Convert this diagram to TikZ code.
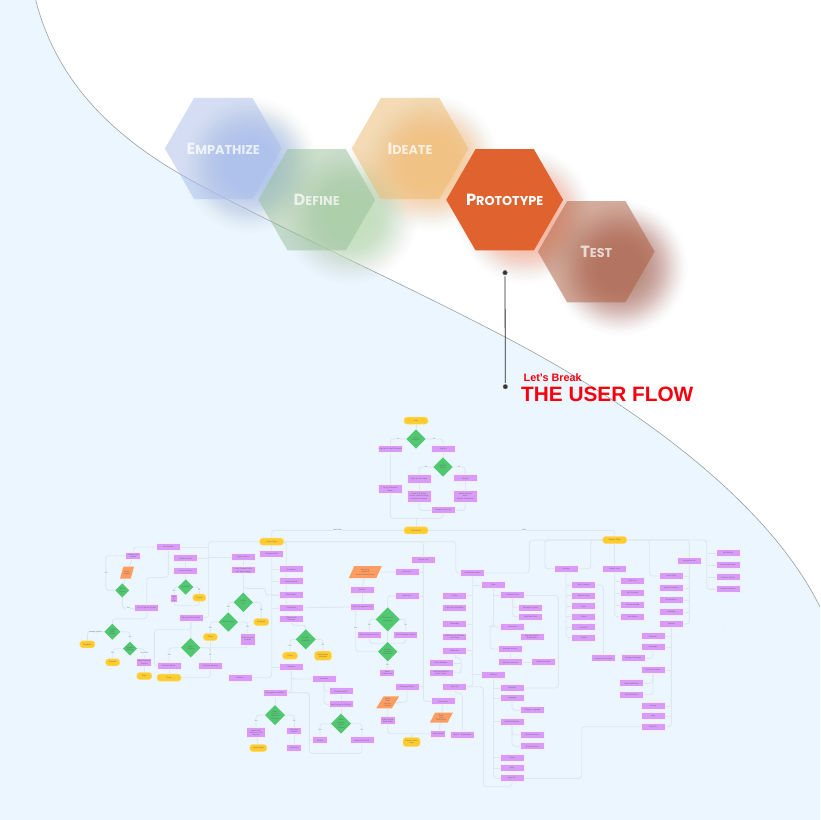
\documentclass[tikz,border=0pt]{standalone}
\usepackage{fontspec}
\setmainfont{Liberation Sans}
\newfontfamily\hexfont{Poppins}
\usetikzlibrary{shapes.geometric}
\definecolor{bgblue}{HTML}{EBF6FF}
\definecolor{curvegrey}{HTML}{9A9FA3}
\definecolor{connc}{HTML}{DEE7EE}
\definecolor{purp}{HTML}{D89CF8}
\definecolor{purpedge}{HTML}{F4EBFD}
\definecolor{yell}{HTML}{FFCC2E}
\definecolor{gren}{HTML}{50C870}
\definecolor{oran}{HTML}{FF9C60}
\definecolor{tinytext}{HTML}{6A6470}
\definecolor{brand}{HTML}{F5000C}
\definecolor{hexA}{HTML}{AABDEB}\definecolor{blobA}{HTML}{B4C9EC}
\definecolor{hexB}{HTML}{97BF97}\definecolor{blobB}{HTML}{C5E0BF}
\definecolor{hexC}{HTML}{EDB96D}\definecolor{blobC}{HTML}{F5CC98}
\definecolor{hexD}{HTML}{E0622E}\definecolor{blobD}{HTML}{F4B49C}
\definecolor{hexE}{HTML}{AB5A3C}\definecolor{blobE}{HTML}{BC8E82}
\pgfdeclarelayer{bglayer}
\pgfdeclarelayer{connlayer}
\pgfsetlayers{bglayer,connlayer,main}
\tikzset{
  tinyfont/.style={font=\fontsize{1.95}{2.4}\selectfont,text=tinytext,align=center,inner sep=0pt,outer sep=0pt},
  pbox/.style={tinyfont,rectangle,fill=purp,draw=purpedge,line width=.7pt,minimum width=24pt,minimum height=7pt},
  ypill/.style={tinyfont,rectangle,rounded corners=3pt,fill=yell,draw=yell!70!white,line width=.5pt,minimum width=24pt,minimum height=7pt},
  gdia/.style={tinyfont,diamond,aspect=1,fill=gren,draw=none,minimum width=19.4pt,minimum height=19.4pt},
  opar/.style={tinyfont,trapezium,trapezium left angle=55,trapezium right angle=125,trapezium stretches=true,fill=oran,draw=none},
  lbl/.style={font=\fontsize{1.8}{2.2}\selectfont,text=tinytext,fill=bgblue,inner sep=.4pt,outer sep=0pt},
  conn/.style={draw=connc,line width=.9pt,rounded corners=3pt},
  hexn/.style={regular polygon,regular polygon sides=6,shape border rotate=0,minimum size=116.8pt,inner sep=0pt,outer sep=0pt,font=\hexfont\bfseries,text=white},
  dotn/.style={circle,fill=black!80,draw=black!55,line width=.5pt,minimum size=4.5pt,inner sep=0pt,outer sep=1.5pt},
  leader/.style={draw=black!85,line width=.8pt},
}
\newcommand\PB[4][]{\node[pbox,#1] (#2) at (#3) {#4};}
\newcommand\YP[4][]{\node[ypill,#1] (#2) at (#3) {#4};}
\newcommand\GD[4][]{\node[gdia,#1] (#2) at (#3) {#4};}
\newcommand\LB[3]{\node[lbl] (#1) at (#2) {#3};}
\newcommand\HL[2]{\makebox[0pt][c]{{\fontsize{16.2}{16.2}\selectfont #1}{\fontsize{12.8}{12.8}\selectfont #2}}}
% soft blurred blob built from stacked translucent discs
\newcommand\softblob[2]{%
  \foreach \i in {1,...,40}{%
    \pgfmathsetmacro\rr{70-1.2*\i}%
    \pgfmathsetmacro\aa{0.003*\i}%
    \fill[#1,opacity=\aa] (#2) circle (\rr);%
  }}
\begin{document}
\begin{tikzpicture}[x=1pt,y=-1pt]
\useasboundingbox (0,0) rectangle (820,820);
\begin{pgfonlayer}{bglayer}
\fill[white] (0,0) rectangle (820,820);
\fill[bgblue] (0,0) -- (35.7,0) .. controls (55,75) and (105,135) .. (200,185) .. controls (300,238) and (400,282) .. (505,337) .. controls (620,397) and (765,495) .. (820,607) -- (820,820) -- (0,820) -- cycle;
\draw[curvegrey,line width=.6pt] (35.7,0) .. controls (55,75) and (105,135) .. (200,185) .. controls (300,238) and (400,282) .. (505,337) .. controls (620,397) and (765,495) .. (820,607);
\end{pgfonlayer}
% blurred colour blobs
\softblob{blobA}{250,165}
\softblob{blobB}{350,216}
\softblob{blobC}{431,163}
\softblob{blobD}{525,216}
\softblob{blobE}{620,268}
% hexagons
\node[hexn,fill=hexA,fill opacity=.5,text opacity=.75] (emp) at (223.3,148.5) {\HL{E}{MPATHIZE}};
\node[hexn,fill=hexB,fill opacity=.5,text opacity=.7] (dfn) at (316.7,199.8) {\HL{D}{EFINE}};
\node[hexn,fill=hexC,fill opacity=.5,text opacity=.75] (ide) at (410,148.5) {\HL{I}{DEATE}};
\node[hexn,fill=hexD] (pro) at (504.7,199.8) {\HL{P}{ROTOTYPE}};
\node[hexn,fill=hexE,fill opacity=.5,text opacity=.7] (tst) at (596.3,251.7) {\HL{T}{EST}};
% leader and titles
\node[dotn] (dota) at (505,272.7) {};
\node[dotn] (dotb) at (505.3,386.7) {};
\draw[leader] (dota) -- (dotb);
\node[anchor=west,inner sep=0pt,text=brand,font=\fontsize{10.8}{12}\selectfont\bfseries] (lets) at (523.5,377.5) {Let's Break};
\node[anchor=west,inner sep=0pt,text=brand,font=\fontsize{20.8}{24}\selectfont\bfseries] (flow) at (521,394.5) {THE USER FLOW};
% auth cluster
\YP{start}{416,420.7}{Start}
\GD{d1}{416,439}{Have\\Account?}
\PB{a}{390.3,449}{Login with Email/Password}
\PB{b}{443,449}{Sign Up}
\GD{d2}{443,467}{Sign Up\\Option}
\PB[minimum height=9pt]{c}{419,479}{Sign Up with Email}
\PB{dd}{465.3,478.3}{Social}
\PB[minimum height=9pt]{e}{390.3,489.3}{Forgot Password\\Reset}
\PB[minimum height=12pt]{f}{419,496}{Enter Full Name\\Email, Password and\\Confirm Password}
\PB[minimum height=12pt]{g}{465.3,496}{Select Account\\Allow\\Access Permission}
\PB{h}{443,510.3}{Complete Sign Up}
\YP{dash}{416,530.3}{Dashboard}
\YP{home}{271.7,541.7}{Home Page}
\YP{tab}{614.7,540}{Explore Page}
\coordinate (j1) at (416,518.3);
\LB{l1}{398,439}{Yes}\LB{l2}{434.3,439}{No}\LB{l3}{426,467}{Yes}\LB{l4}{459,467}{No}
\LB{l5}{337.7,530.3}{Main Tabs}\LB{l6}{524,530.3}{Tabs}
% left cluster
\PB{n1}{168.3,547}{Get Started}
\PB[minimum width=15pt]{n2}{133.3,555.7}{Add to Cart\\Option}
\node[opar,minimum width=14pt,minimum height=12pt] (n3) at (127,572.7) {Enter\\Details};
\GD[minimum width=14pt,minimum height=14pt]{d3}{122.3,590.3}{Select\\Option}
\PB{n4}{146.7,608.3}{Go to Checkout Page}
\PB{n5}{185.7,558.3}{Product Details}
\PB{n6}{185.7,571}{Choose Options}
\GD[minimum width=15.4pt,minimum height=15.4pt]{d4}{185.7,587}{Available}
\PB[minimum width=7pt,minimum height=8pt]{n7}{174,598.7}{Add\\to\\Cart}
\YP[minimum width=13pt]{p1}{199.3,597.7}{Cancel}
\PB{n8}{191,617.7}{Review Order Details}
\GD{d5}{228.3,622}{Valid Coupon}
\YP[minimum width=14pt]{p2}{210.3,637}{Close}
\GD[minimum width=16pt,minimum height=16pt]{d6}{112.3,631.7}{Confirm\\Order\\Details}
\YP[minimum width=15pt]{p3}{87.3,644.3}{Feedback}
\GD[minimum width=14pt,minimum height=14pt]{d7}{130,648.7}{Payment\\Method}
\YP[minimum width=14pt]{p4}{112.7,662.3}{Success}
\PB[minimum width=15pt,minimum height=8pt]{n9}{144.3,662.3}{Make Payment\\Process}
\YP[minimum width=15pt]{p5}{144.3,676}{Close}
\GD{d8}{190.7,647.7}{Select\\Address}
\PB{n10}{169,665.7}{Saved Address}
\PB{n11}{210.3,665.7}{Add New Address}
\YP{p6}{169,677.7}{Close}
\PB{n12}{240,677.7}{Wishlist}
\LB{l7}{106,573}{Yes}\LB{l8}{128.3,608.3}{Yes}\LB{l9}{174,591}{Yes}\LB{l10}{199.3,590.3}{No}
\LB{l11}{95.3,631.7}{Already Applied}\LB{l12}{130,636.7}{Yes}\LB{l13}{112.7,653.3}{Yes}\LB{l14}{144.3,653.3}{Pay Now}
\LB{l15}{169,655}{Yes}\LB{l16}{210.3,655}{No}\LB{l17}{210.3,627.7}{Yes}
% home cluster
\PB{n13}{243.3,557.3}{Apply Coupon}
\PB{n14}{243.3,570.3}{Enter Coupon Code\\and Tap on Apply}
\GD{d9}{243.3,602.3}{Add to\\Cart}
\YP[minimum width=15pt]{p7}{261.3,622}{Purchase}
\PB[minimum width=15pt,minimum height=12pt]{n15}{247.7,639}{Show Coupon\\Applied}
\PB{n16}{271.7,554.3}{Navigation Bar}
\PB{n17}{291.3,569.3}{Promotions}
\PB{n18}{291.3,581.3}{New Products}
\PB{n19}{291.3,595}{Best Sellers}
\PB{n20}{291.3,608}{Categories}
\PB{n21}{291.3,618.7}{Product List\\Reviews}
\GD[minimum width=20pt,minimum height=20pt]{d10}{305.7,639.3}{Product\\Available}
\YP[minimum width=15pt]{p8}{290,655.7}{Close}
\YP[minimum width=17pt,minimum height=9pt]{p9}{323,655.7}{Notify When\\Available}
\PB{n22}{291.3,667}{Reviews}
\PB{n23}{324,679}{Top Sales}
\PB{n24}{275,692.7}{Buy Again and Offers}
\PB{n25}{341,691.3}{Product Details}
\PB{n26}{341,704.3}{Add Product to Wishlist}
\GD[minimum width=20pt,minimum height=20pt]{d11}{275,715}{Select\\Product\\Option to\\Proceed}
\GD[minimum width=20pt,minimum height=20pt]{d12}{341,723.7}{Select\\Quantity\\Option\\Proceed}
\PB[minimum width=19pt,minimum height=10pt]{n27}{256,732.7}{Add to Cart\\and Go to Cart\\Success}
\PB[minimum width=15pt]{n28}{294.3,731.3}{Buy Now\\Option}
\PB[minimum width=15pt]{n29}{320,740.3}{Details}
\PB{n30}{362,740.3}{View Cart Details}
\YP[minimum width=17pt]{p10}{258.3,748}{Home Page}
\PB[minimum width=15pt]{n31}{294.3,748}{Checkout}
\LB{l18}{228.3,607.3}{Yes}\LB{l19}{261.3,610}{No}\LB{l20}{247.7,627.3}{No}\LB{l21}{290,646}{Yes}\LB{l22}{323,645}{No}
\LB{l23}{256,721}{Yes}\LB{l24}{294.3,721}{No}\LB{l25}{320,730}{Yes}\LB{l26}{362,730}{No}
% centre cluster
\PB{n36}{423.3,560}{Search Icon}
\node[opar,minimum width=33pt,minimum height=12pt] (o1) at (365.3,572) {Search by\\Keyword\\Enter Product Name};
\PB{n37}{407,572}{Filter Icon}
\PB{n38}{362,589.7}{Search}
\PB{n39}{407,596}{Scan Icon}
\PB{n40}{362,606.7}{Product Suggestion List}
\GD[minimum width=24pt,minimum height=24pt]{d13}{387.7,619.3}{Allow Access\\Permission}
\PB{n41}{369.3,634.7}{Open Camera to Scan}
\PB{n42}{405.7,634.7}{Show Settings to Allow}
\GD{d14}{387.7,651.7}{Product\\Found in\\Database}
\PB[minimum width=15pt]{n32}{387.3,673}{Show\\Product List}
\PB{n33}{407,686.7}{Shopping History}
\node[opar,minimum width=23pt,minimum height=12pt] (o2) at (387.7,702.3) {Order\\Date\\Amount\\Product};
\PB[minimum width=15pt,minimum height=8pt]{n34}{387.7,720.5}{Order Details\\Track Order}
\YP[minimum width=17pt,minimum height=9pt]{p11}{411.5,742}{Back to Order\\Page}
\PB[minimum width=15pt]{n35}{438.3,733.7}{Order Details}
\PB{n96}{443,701.3}{Track Order}
\node[opar,minimum width=23pt,minimum height=10pt] (o3) at (441.3,717.7) {Order\\Date\\Track Order};
\PB{n97}{462.3,735}{Sign In / Registration}
\LB{l27}{355.7,628.3}{Yes}\LB{l28}{369.3,625}{Yes}\LB{l29}{405.7,625}{No}\LB{l30}{387.3,665}{Yes}
% account cluster
\PB{n43}{472.7,573}{Notifications Menu}
\PB{n44}{493.5,585}{Data}
\PB{n45}{454.7,595.7}{Profile}
\PB{n46}{454.7,608}{Personal Information}
\PB{n47}{454.7,624.3}{Messages}
\PB{n48}{454.7,636.7}{Notification for Orders\\and Chats}
\PB{n49}{454.7,650.7}{Addresses}
\PB{n50}{441,663}{Save Address}
\PB{n51}{441,673}{Add New Address\\Home, Work}
\PB{n52}{493.5,674.7}{Settings}
\PB{n53}{454.7,686.7}{Sign Out}
\PB{n55}{512.7,595.3}{Payment Card}
\PB{n56}{530.7,607.7}{Manage Payment}
\PB{n57}{530.7,616.7}{Add New Card}
\PB{n58}{512.7,627}{Subscribe}
\PB{n59}{532,636.7}{Buy and Pay for\\Subscription}
\PB{n60}{510.3,649}{Manage Account}
\PB{n61}{510.3,662.3}{Add New Account}
\PB{n62}{543.3,662.3}{Update Account}
\PB{n98}{512,688}{Rewards}
\PB{n99}{512,698.3}{Language}
\PB{n100}{532.3,710.3}{Change Language}
\PB{n101}{512,721.7}{Push Notification}
\PB{n102}{532.3,735}{New Notification}
\PB{n103}{532.3,746.3}{All Notifications}
\PB{n104}{512,757.7}{Privacy}
\PB{n105}{512,768}{Help}
\PB{n106}{512,778.3}{Sign Out}
% explore cluster
\PB{n64}{566,568.7}{Discover}
\PB{n65}{614.7,569}{Market Area}
\PB{n66}{583.7,585}{New Products}
\PB{n67}{583.7,595.7}{Recent Views}
\PB{n68}{583.7,606.3}{Deals}
\PB{n69}{583.7,616.7}{Offers}
\PB{n70}{583.7,627.3}{Favorites}
\PB{n71}{583.7,637.7}{Trends}
\PB{n72}{632.7,581}{Filter Icon}
\PB{n73}{632.7,593}{My Favorites}
\PB{n74}{632.7,605}{Recommended}
\PB{n75}{632.7,617}{Best Sellers}
\PB{n76}{603.3,658.3}{Products and Details}
\PB{n77}{689.3,560.7}{Navigation Bar}
\PB{n78}{671.3,576}{Home Page}
\PB{n79}{671.3,588}{Search Products}
\PB{n80}{671.3,600}{Notifications}
\PB{n81}{671.3,612}{Rewards}
\PB{n82}{671.3,624}{Settings}
\PB{n83}{728,553.3}{My Wishlist}
\PB{n84}{728,565.3}{Upcoming Events}
\PB{n85}{728,577.3}{Previous Orders}
\PB{n86}{728,589.3}{Popular Products}
\PB{n87}{653,636.3}{Rewards}
\PB{n88}{653,647}{Language}
\PB{n89}{633,658.3}{Change Language}
\PB{n90}{653,670}{Push Notification}
\PB{n91}{631.7,683.3}{New Notification}
\PB{n92}{631.7,694.7}{All Notifications}
\PB{n93}{653,706}{Privacy}
\PB{n94}{653,716.3}{Help}
\PB{n95}{653,726.7}{Sign Out}
\node[font=\fontsize{2}{2.4}\selectfont,text=black!50,inner sep=0pt] (mark) at (725,628.7) {...};
% connectors
\begin{pgfonlayer}{connlayer}
\draw[conn] (start) -- (d1);
\draw[conn] (d1.west) -| (a.north);
\draw[conn] (a) -- (e);
\draw[conn] (e.south) |- (j1);
\draw[conn] (d1.east) -| (b.north);
\draw[conn] (b) -- (d2);
\draw[conn] (d2.west) -| (c.north);
\draw[conn] (c) -- (f);
\draw[conn] (f.south) |- (h.west);
\draw[conn] (d2.east) -| (dd.north);
\draw[conn] (dd) -- (g);
\draw[conn] (g.south) |- (h.east);
\draw[conn] (h.south) |- (j1);
\draw[conn] (j1) -- (dash.north);
\draw[conn] (dash.west) -| (home.north);
\draw[conn] (dash.east) -| (tab.north);
% left
\draw[conn] (home.west) -- ++(-51,0) |- (n8.east);
\draw[conn] (n1.east) -- ++(28.4,0);
\draw[conn] (n5.east) -- ++(11,0);
\draw[conn] (n13.west) -- ++(-22.6,0);
\draw[conn] (n1.west) -| (n2.north);
\draw[conn] (n2) -- (n3);
\draw[conn] (n3) -- (d3);
\draw[conn] (n2.west) -- ++(-20,0) |- (d3.west);
\draw[conn] (d3.south) |- (n4.west);
\draw[conn] (n1.south) -- ++(0,27) -| (n4.north);
\draw[conn] (n4.south) -- ++(0,7) -| (d6.north);
\draw[conn] (d6.west) -| (p3.north);
\draw[conn] (d6.east) -| (d7.north);
\draw[conn] (d7.west) -| (p4.north);
\draw[conn] (d7.east) -| (n9.north);
\draw[conn] (n9) -- (p5);
\draw[conn] (n5) -- (n6);
\draw[conn] (n6) -- (d4);
\draw[conn] (d4.west) -| (n7.north);
\draw[conn] (d4.east) -| (p1.north);
\draw[conn] (n7.south) -- ++(0,3) -| (p1.south);
\draw[conn] (n8) -- (d8);
\draw[conn] (n8.south) -- ++(0,8.5) -- ++(-36.7,0) |- (n10.west);
\draw[conn] (d8.west) -| (n10.north);
\draw[conn] (d8.east) -| (n11.north);
\draw[conn] (n10) -- (p6);
\draw[conn] (n11.south) |- (p6.east);
\draw[conn] (p2) -- (n11);
\draw[conn] (d5.west) -| (p2.north);
\draw[conn] (d5.east) -| (n15.north);
\draw[conn] (n15.south) |- (d8.east);
\draw[conn] (n13) -- (n14);
\draw[conn] (n14) -- (d9);
\draw[conn] (d9.west) -| (d5.north);
\draw[conn] (d9.east) -| (p7.north);
\draw[conn] (n14.south) -- ++(0,14.5) -- ++(22,0) |- (n19.west);
% home
\draw[conn] (home) -- (n16);
\draw[conn] (n16.south) |- (n12.east);
\draw[conn] (n17.west) -- ++(-7.6,0);
\draw[conn] (n18.west) -- ++(-7.6,0);
\draw[conn] (n19.west) -- ++(-7.6,0);
\draw[conn] (n20.west) -- ++(-7.6,0);
\draw[conn] (n22.west) -- ++(-7.6,0);
\draw[conn] (home.east) -- ++(2.5,0) -- ++(0,75);
\draw[conn] (n21.south) -- ++(0,3) -| (d10.north);
\draw[conn] (d10.west) -| (p8.north);
\draw[conn] (d10.east) -| (p9.north);
\draw[conn] (n22.south) |- (n23.west);
\draw[conn] (n22.south) |- (n24.east);
\draw[conn] (n23.south) |- (n25.west);
\draw[conn] (n23.south) |- (n26.west);
\draw[conn] (n24) -- (d11);
\draw[conn] (d11.west) -| (n27.north);
\draw[conn] (d11.east) -| (n28.north);
\draw[conn] (n27) -- (p10);
\draw[conn] (n28) -- (n31);
\draw[conn] (n26) -- (d12);
\draw[conn] (n25) -- (n26);
\draw[conn] (d12.west) -| (n29.north);
\draw[conn] (d12.east) -| (n30.north);
\draw[conn] (n24.east) -- ++(22.3,0) -- ++(0,60.6) -| (n30.south);
\draw[conn] (n24.east) -- ++(22.3,0) |- (n29.west);
% centre
\draw[conn] (home.east) -| (n36.north);
\draw[conn] (home.east) -- ++(172,0) |- (n43.west);
\draw[conn] (n36.south) |- (n96.west);
\draw[conn] (n37.east) -- ++(4.3,0);
\draw[conn] (n39.east) -- ++(4.3,0);
\draw[conn] (n33.east) -- ++(4.3,0);
\draw[conn] (n37) -- (o1);
\draw[conn] (o1) -- (n38);
\draw[conn] (n38) -- (n40);
\draw[conn] (n20) -- (n40);
\draw[conn] (n40.south west) -- ++(5.7,0) |- (d14.west);
\draw[conn] (n39.west) -| (d13.north);
\draw[conn] (d13.west) -| (n41.north);
\draw[conn] (d13.east) -| (n42.north);
\draw[conn] (n41.south) -- ++(0,5) -| (n42.south);
\draw[conn] (d13) -- (d14);
\draw[conn] (d14) -- (n32);
\draw[conn] (n33.south) |- (o2.east);
\draw[conn] (o2) -- (n34);
\draw[conn] (n34.south) |- (n35.west);
\draw[conn] (p11.north) -- ++(0,-3);
\draw[conn] (n96) -- (o3);
\draw[conn] (o3) -- (n35);
% account
\draw[conn] (n43.south) |- (n53.east);
\draw[conn] (n44.west) -- ++(-8.8,0);
\draw[conn] (n45.east) -- ++(6,0);
\draw[conn] (n47.east) -- ++(6,0);
\draw[conn] (n49.east) -- ++(6,0);
\draw[conn] (n52.west) -- ++(-8.8,0);
\draw[conn] (n49.south) -- ++(0,4) -- ++(6.5,0) |- (n51.east);
\draw[conn] (n50.east) -- ++(7.7,0);
\draw[conn] (n44.south) |- (n58.west);
\draw[conn] (n55.west) -- ++(-7.2,0);
\draw[conn] (n44.south) -- ++(0,38) -- ++(-3.5,0) |- (n60.west);
\draw[conn] (n55.south) |- (n56.west);
\draw[conn] (n55.south) |- (n57.west);
\draw[conn] (n55.east) -- ++(33.7,0) |- (n98.east);
\draw[conn] (n60) -- (n61);
\draw[conn] (n61) -- (n62);
\draw[conn] (n52.south) |- (n106.west);
\draw[conn] (n98.west) -- ++(-6.7,0);
\draw[conn] (n99.west) -- ++(-6.7,0);
\draw[conn] (n101.west) -- ++(-6.7,0);
\draw[conn] (n104.west) -- ++(-6.7,0);
\draw[conn] (n105.west) -- ++(-6.7,0);
\draw[conn] (n99.south) |- (n100.west);
\draw[conn] (n101.south) |- (n102.west);
\draw[conn] (n101.south) |- (n103.west);
\draw[conn] (n53.south) -- ++(0,3) -| (n97.north);
\draw[conn] (n53.east) -- ++(16.6,0) -- ++(0,100) -| (n106.south);
\draw[conn] (n106.east) -- ++(57.7,0) |- (n95.west);
% explore
\draw[conn] (tab.west) -- ++(-12,0) |- (n64.east);
\draw[conn] (tab.west) -- ++(-73.4,0) |- (n43.east);
\draw[conn] (tab.west) -- ++(-57.7,0) |- (n64.west);
\draw[conn] (tab) -- (n65);
\draw[conn] (n65.south) |- (n75.west);
\draw[conn] (n72.west) -- ++(-6,0);
\draw[conn] (n73.west) -- ++(-6,0);
\draw[conn] (n74.west) -- ++(-6,0);
\draw[conn] (n64.south) |- (n71.west);
\draw[conn] (n66.west) -- ++(-5.7,0);
\draw[conn] (n67.west) -- ++(-5.7,0);
\draw[conn] (n68.west) -- ++(-5.7,0);
\draw[conn] (n69.west) -- ++(-5.7,0);
\draw[conn] (n70.west) -- ++(-5.7,0);
\draw[conn] (n66.east) -| (n76.north);
\draw[conn] (tab.east) -- ++(23,0) |- (n78.west);
\draw[conn] (tab.east) -| (n77.north);
\draw[conn] (tab.east) -- ++(80,0) |- (n86.west);
\draw[conn] (n83.west) -- ++(-9,0);
\draw[conn] (n84.west) -- ++(-9,0);
\draw[conn] (n85.west) -- ++(-9,0);
\draw[conn] (n77.south) |- (n82.east);
\draw[conn] (n78.east) -- ++(6,0);
\draw[conn] (n79.east) -- ++(6,0);
\draw[conn] (n80.east) -- ++(6,0);
\draw[conn] (n81.east) -- ++(6,0);
\draw[conn] (n82.south) |- (n95.east);
\draw[conn] (n87.east) -- ++(6.3,0);
\draw[conn] (n88.east) -- ++(6.3,0);
\draw[conn] (n90.east) -- ++(6.3,0);
\draw[conn] (n93.east) -- ++(6.3,0);
\draw[conn] (n94.east) -- ++(6.3,0);
\draw[conn] (n88.south) |- (n89.east);
\draw[conn] (n90.south) |- (n91.east);
\draw[conn] (n90.south) |- (n92.east);
\end{pgfonlayer}
\end{tikzpicture}
\end{document}
